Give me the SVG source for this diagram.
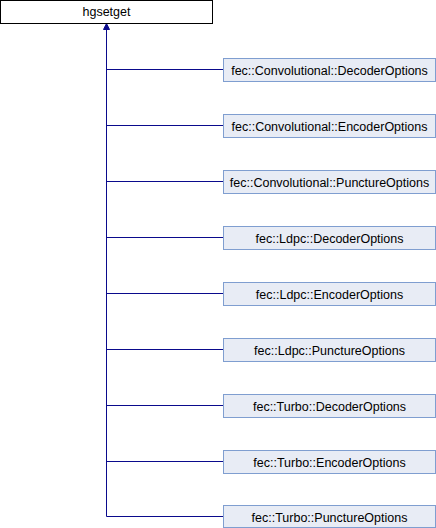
<svg xmlns="http://www.w3.org/2000/svg" width="436" height="528" viewBox="0 0 436 528">
<defs>
<style>
.n rect{fill:#e8ecf5;stroke:#7f9ed0;stroke-width:1}
.r rect{fill:#ffffff;stroke:#000000;stroke-width:1}
text{font-family:"Liberation Sans",Arial,sans-serif;font-size:12.5px;fill:#000;text-anchor:middle}
.e{stroke:#0a0a8c;stroke-width:1;fill:none}
</style>
</defs>
<rect width="436" height="528" fill="#ffffff"/>
<g id="edges">
<path class="e" d="M106.5,516.5 V24"/>
<path class="e" d="M106.5,69.5 H223 M106.5,125.5 H223 M106.5,181.5 H223 M106.5,237.5 H223 M106.5,293.5 H223 M106.5,349.5 H223 M106.5,405.5 H223 M106.5,461.5 H223 M106.5,516.5 H223"/>
<path d="M106.5,23.5 L109.5,29.5 L103.5,29.5 Z" fill="#0a0a8c" stroke="#0a0a8c" stroke-width="1"/>
</g>
<g id="hgsetget" class="r"><rect x="0.5" y="0.5" width="212" height="23"/><text x="106.5" y="16">hgsetget</text></g>
<g id="conv_dec" class="n"><rect x="223.5" y="58.5" width="212" height="23"/><text x="329.5" y="74.5">fec::Convolutional::DecoderOptions</text></g>
<g id="conv_enc" class="n"><rect x="223.5" y="114.5" width="212" height="23"/><text x="329.5" y="130.5">fec::Convolutional::EncoderOptions</text></g>
<g id="conv_punc" class="n"><rect x="223.5" y="170.5" width="212" height="23"/><text x="329.5" y="186.5">fec::Convolutional::PunctureOptions</text></g>
<g id="ldpc_dec" class="n"><rect x="223.5" y="226.5" width="212" height="23"/><text x="329.5" y="242.5">fec::Ldpc::DecoderOptions</text></g>
<g id="ldpc_enc" class="n"><rect x="223.5" y="282.5" width="212" height="23"/><text x="329.5" y="298.5">fec::Ldpc::EncoderOptions</text></g>
<g id="ldpc_punc" class="n"><rect x="223.5" y="338.5" width="212" height="23"/><text x="329.5" y="354.5">fec::Ldpc::PunctureOptions</text></g>
<g id="turbo_dec" class="n"><rect x="223.5" y="394.5" width="212" height="23"/><text x="329.5" y="410.5">fec::Turbo::DecoderOptions</text></g>
<g id="turbo_enc" class="n"><rect x="223.5" y="450.5" width="212" height="23"/><text x="329.5" y="466.5">fec::Turbo::EncoderOptions</text></g>
<g id="turbo_punc" class="n"><rect x="223.5" y="505.5" width="212" height="22"/><text x="329.5" y="521.5">fec::Turbo::PunctureOptions</text></g>
</svg>
